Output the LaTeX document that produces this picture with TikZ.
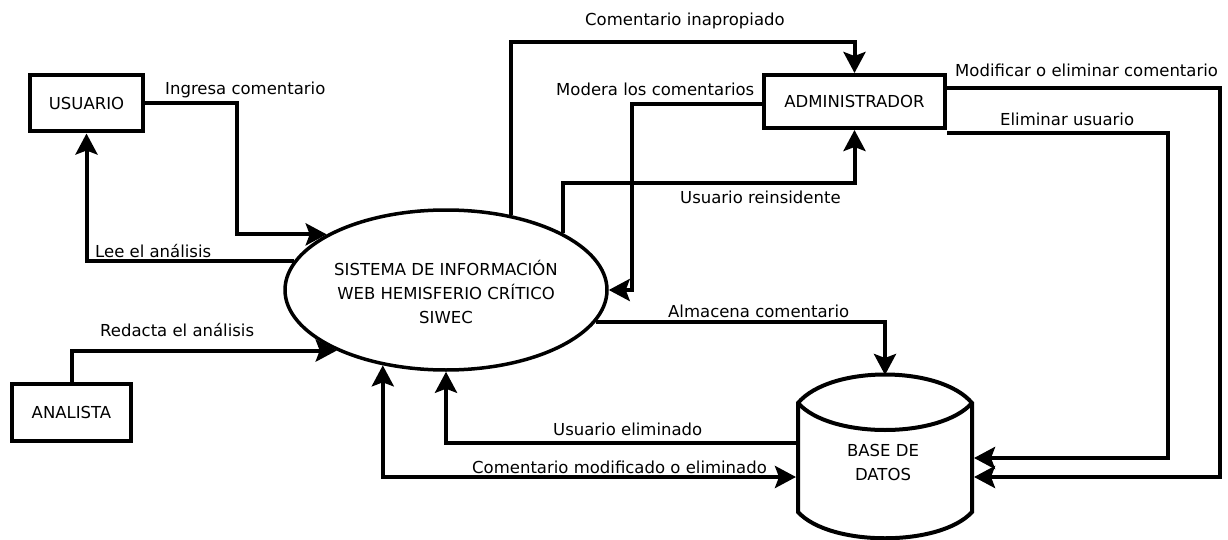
\documentclass[tikz,border=0pt]{standalone}
\usepackage{fontspec}
\setmainfont{DejaVu Sans}
\usetikzlibrary{arrows.meta,shapes.geometric}
\begin{document}
\begin{tikzpicture}[x=1pt,y=-1pt,
  every node/.style={font=\fontsize{16.5}{24}\selectfont},
  ln/.style={line width=4pt},
  arr/.style={ln,-{Stealth[length=21pt 0,width=22pt 0,inset=4pt 0]}},
  arrboth/.style={ln,{Stealth[length=21pt 0,width=22pt 0,inset=4pt 0]}-{Stealth[length=21pt 0,width=22pt 0,inset=4pt 0]}},
  box/.style={draw,ln,rectangle,inner sep=0pt},
  lbl/.style={anchor=base west,inner sep=0pt},
  txt/.style={align=center,inner sep=0pt},
]
\useasboundingbox (0,0) rectangle (1228,540);

% entities
\node[box,minimum width=113pt,minimum height=56pt] (usuario) at (86.5,103.5) {\raisebox{-2.5pt}{USUARIO}};
\node[box,minimum width=119pt,minimum height=57pt] (analista) at (71.5,412.5) {\raisebox{-2pt}{ANALISTA}};
\node[box,minimum width=181pt,minimum height=53pt] (admin) at (854.5,101.5) {\raisebox{-2.5pt}{ADMINISTRADOR}};

% process
\node[draw,ellipse,line width=3.5pt,minimum width=322pt,minimum height=160pt,inner sep=0pt] (ell) at (446,290) {};
\node[txt] (ellt) at (446,292) {SISTEMA DE INFORMACIÓN\\WEB HEMISFERIO CRÍTICO\\SIWEC};

% data store
\node[rectangle,minimum width=178pt,minimum height=163pt,inner sep=0pt,outer sep=0pt] (bd) at (885,456.5) {};
\draw[ln] (798,403) .. controls (830,365) and (940,365) .. (972,403) -- (972,512)
  .. controls (940,547) and (830,547) .. (798,512) -- cycle;
\draw[ln] (798,403) .. controls (830,439) and (940,439) .. (972,403);
\node[txt] (bdt) at (883,462) {BASE DE\\DATOS};

% flows
\draw[arr] (usuario.east) -- ++(92,0) |- (ell.155);
\draw[arr] (ell.169) -| (usuario.south);
\draw[arr] (analista.north) |- (ell.209);
\draw[arr] (ell.49) -- (ell.49 |- 0,42) -| (admin.north);
\draw[arr] ([yshift=-3pt]admin.west) -- ++(-130,0) |- (ell.east);
\draw[arr] (ell.26) -- (ell.26 |- 0,183) -| (admin.south);
\draw[arr] ([yshift=13.5pt]admin.east) -- ++(273,0) |- ([yshift=-20.5pt]bd.east);
\draw[arr] ([yshift=-3pt]admin.south east) -- ++(221,0) |- ([yshift=-1.5pt]bd.east);
\draw[arr] (ell.348) -| (bd.north);
\draw[arr] ([yshift=13.5pt]bd.west) -| (ell.south);
\draw[arrboth] (ell.230) |- ([yshift=-20.5pt]bd.west);

% labels
\node[lbl] (l1) at (165,95) {Ingresa comentario};
\node[lbl] (l2) at (95,257) {Lee el análisis};
\node[lbl] (l3) at (100,336) {Redacta el análisis};
\node[lbl] (l4) at (585,26) {Comentario inapropiado};
\node[lbl] (l5) at (556,96) {Modera los comentarios};
\node[lbl] (l6) at (680,204) {Usuario reinsidente};
\node[lbl] (l7) at (955,77) {Modificar o eliminar comentario};
\node[lbl] (l8) at (1000,126) {Eliminar usuario};
\node[lbl] (l9) at (668,317) {Almacena comentario};
\node[lbl] (l10) at (553,435) {Usuario eliminado};
\node[lbl] (l11) at (472,473) {Comentario modificado o eliminado};
\end{tikzpicture}
\end{document}
